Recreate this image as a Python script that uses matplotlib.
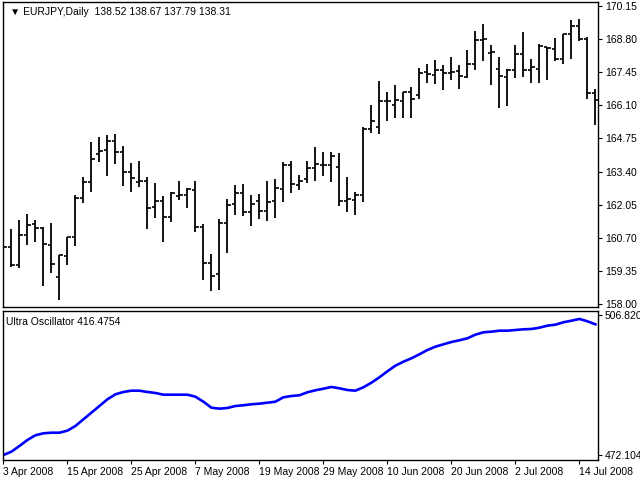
import matplotlib
matplotlib.use("Agg")
import matplotlib.pyplot as plt
import numpy as np

plt.rcParams['font.family'] = ['Liberation Sans', 'DejaVu Sans']

opens = [160.33,160.33,159.59,160.82,161.26,161.10,160.41,159.10,159.96,160.73,
         162.32,162.98,164.12,164.28,164.65,164.20,163.38,162.98,163.02,161.96,
         162.20,161.55,162.40,162.45,162.65,161.14,159.67,159.22,161.30,162.08,
         162.53,161.75,162.20,161.79,162.20,162.69,163.67,162.85,163.10,163.55,
         163.67,163.67,163.59,162.20,162.24,162.45,165.14,165.22,166.28,166.11,
         166.28,166.64,166.52,167.46,167.34,167.54,167.42,167.50,167.26,167.79,
         168.76,168.23,167.58,167.26,167.54,168.19,167.54,167.58,168.48,168.40,
         167.99,169.01,169.34,168.81,166.60]
highs = [160.98,161.06,161.43,161.67,161.43,161.14,161.30,160.00,160.73,162.45,
         163.18,164.61,164.81,164.89,164.93,164.44,163.75,163.83,163.18,162.94,
         162.40,162.57,163.02,162.73,163.02,161.26,160.04,161.47,162.28,162.85,
         162.89,162.45,162.49,163.02,163.10,163.79,163.83,163.26,163.83,164.40,
         164.20,164.20,164.16,163.18,162.57,165.22,166.11,167.09,166.64,166.93,
         166.64,166.85,167.62,167.79,167.95,167.75,168.07,167.75,168.36,169.13,
         169.42,168.56,168.07,167.58,168.56,169.09,167.99,168.60,168.48,168.85,
         169.01,169.58,169.62,168.89,166.77]
lows = [159.22,159.51,159.47,160.41,160.53,158.74,159.27,158.17,159.59,160.37,
        162.12,162.57,163.79,163.22,163.71,162.81,162.57,162.77,161.06,161.51,
        160.53,161.35,162.24,161.92,160.94,158.98,158.53,158.57,160.08,161.63,
        161.59,161.18,161.47,161.39,161.51,162.16,162.53,162.65,162.94,163.02,
        163.22,162.98,162.00,161.75,161.63,162.16,164.97,164.93,165.46,165.58,
        165.58,165.58,166.36,167.01,166.97,166.73,167.13,166.77,167.22,167.54,
        167.91,166.93,165.99,166.07,167.22,167.26,167.01,167.01,167.13,167.91,
        167.79,167.99,168.72,166.36,165.30]
closes = [160.33,159.59,160.82,161.22,161.10,160.45,159.63,160.00,160.73,162.32,
          162.98,163.91,164.24,164.65,164.20,163.38,163.14,163.02,161.92,162.20,
          161.55,162.53,162.45,162.69,161.14,159.67,159.14,161.30,162.04,162.53,
          161.75,162.08,161.79,162.16,162.73,163.67,162.89,163.02,163.55,163.71,
          163.67,164.04,162.20,162.28,162.45,165.14,165.46,166.28,166.28,166.32,
          166.64,166.36,167.42,167.38,167.54,167.42,167.46,167.30,167.79,168.76,
          168.81,168.28,167.30,167.54,168.19,167.54,167.66,168.52,168.44,167.99,
          169.01,169.34,168.81,166.60,166.32]
osc = [472.10,472.92,474.33,475.82,476.99,477.48,477.63,477.63,478.13,479.29,
       480.95,482.59,484.25,485.91,487.15,487.73,488.05,488.05,487.73,487.48,
       487.06,487.06,487.06,487.06,486.56,485.32,483.83,483.59,483.76,484.25,
       484.43,484.68,484.83,485.07,485.32,486.41,486.73,486.91,487.65,488.15,
       488.54,488.97,488.64,488.22,488.05,488.89,490.03,491.37,492.86,494.25,
       495.24,496.08,497.07,498.14,498.96,499.55,500.12,500.55,501.04,501.94,
       502.53,502.68,502.93,502.93,503.10,503.27,503.35,503.67,504.17,504.42,
       505.01,505.41,505.83,505.26,504.51]
date_labels = ["3 Apr 2008","15 Apr 2008","25 Apr 2008","7 May 2008","19 May 2008",
               "29 May 2008","10 Jun 2008","20 Jun 2008","2 Jul 2008","14 Jul 2008"]
price_ticks = [170.15,168.80,167.45,166.10,164.75,163.40,162.05,160.70,159.35,158.00]

W, H = 640, 480
fig = plt.figure(figsize=(6.4, 4.8), dpi=100)
ax = fig.add_axes([3/W, 1-307/H, 595/W, 305/H])
ax2 = fig.add_axes([3/W, 1-460/H, 595/W, 149/H])

x = np.arange(len(opens))
xl = (-0.05, 74.325)
tk = 0.4
ax.vlines(x, lows, highs, color='black', lw=1.3)
ax.hlines(opens, x - tk, x, color='black', lw=1.2)
ax.hlines(closes, x, x + tk, color='black', lw=1.2)
ax.set_xlim(*xl)
ax.set_ylim(157.88, 170.31)
ax.set_xticks([])
ax.yaxis.tick_right()
ax.set_yticks(price_ticks)
ax.set_yticklabels([f"{v:.2f}" for v in price_ticks])
ax.tick_params(axis='y', length=3, width=0.8, labelsize=7.5, pad=2)
ax.text(0.012, 0.985, "▼ EURJPY,Daily  138.52 138.67 137.79 138.31", transform=ax.transAxes,
        fontsize=7.5, va='top', ha='left')

ax2.plot(x, osc, color='#0000ff', lw=1.9)
ax2.set_xlim(*xl)
ax2.set_ylim(470.86, 507.81)
ax2.yaxis.tick_right()
ax2.set_yticks([506.8201, 472.1047])
ax2.set_yticklabels(["506.8201", "472.1047"])
ax2.tick_params(axis='y', length=3, width=0.8, labelsize=7.5, pad=2)
ax2.set_xticks(np.arange(0, 73, 8))
ax2.set_xticklabels(date_labels, ha='left')
ax2.tick_params(axis='x', length=3, width=0.8, labelsize=7.5, pad=2)
ax2.text(0.005, 0.96, "Ultra Oscillator 416.4754", transform=ax2.transAxes,
         fontsize=7.5, va='top', ha='left')
for a in (ax, ax2):
    for s in a.spines.values():
        s.set_linewidth(1.0)

fig.savefig("out.png", dpi=100)
